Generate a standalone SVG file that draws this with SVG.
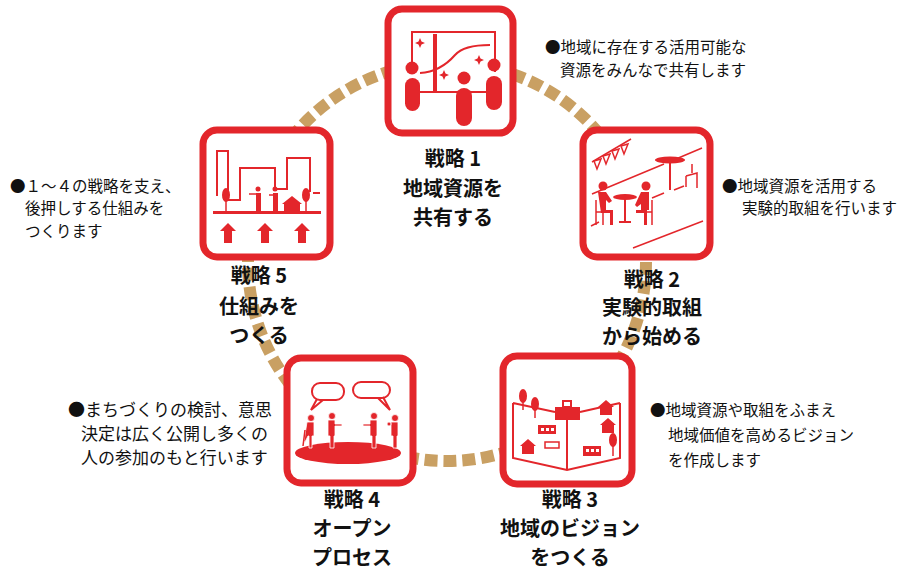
<svg xmlns="http://www.w3.org/2000/svg" width="901" height="571" viewBox="0 0 901 571">
  <style>
    .box { fill: #fff; stroke: #e3262b; stroke-width: 7; }
    .r { fill: #e3262b; }
    .ln { fill: none; stroke: #e3262b; stroke-width: 2; }
    .lt { fill: none; stroke: #e3262b; stroke-width: 1.5; }
    .lbl { font-family: "Noto Sans CJK JP", "Noto Sans", sans-serif; font-weight: 700; font-size: 20px; text-anchor: middle; fill: #111; }
    .desc { font-family: "Noto Sans CJK JP", "Noto Sans", sans-serif; font-size: 15.5px; fill: #111; }
    .desc.wide { font-size: 17px; }
  </style>
  <rect width="901" height="571" fill="#fff"/>

  <!-- dashed ring linking the five strategies -->
  <g id="connectors">
    <circle cx="447" cy="262" r="199" fill="none" stroke="#c9a063" stroke-width="12" stroke-dasharray="13 5.94"/>
  </g>

  <!-- Strategy 1: share local resources -->
  <g id="node-1">
    <rect class="box" x="388" y="9" width="125" height="124" rx="14"/>
    <path class="ln" d="M412,62 V32 H495 V72"/>
    <path class="ln" d="M420,92 H486"/>
    <rect class="r" x="433" y="34" width="4" height="58"/>
    <path class="ln" d="M420,73 C438,72 448,63 455,55 C462,47 474,45 490,45"/>
    <path class="r" d="M420,38 l1.5,3.5 l3.5,1.5 l-3.5,1.5 l-1.5,3.5 l-1.5,-3.5 l-3.5,-1.5 l3.5,-1.5 z"/>
    <path class="r" d="M479,55 l1.5,3.5 l3.5,1.5 l-3.5,1.5 l-1.5,3.5 l-1.5,-3.5 l-3.5,-1.5 l3.5,-1.5 z"/>
    <path class="r" d="M444,70 l1.5,3.5 l3.5,1.5 l-3.5,1.5 l-1.5,3.5 l-1.5,-3.5 l-3.5,-1.5 l3.5,-1.5 z"/>
    <circle class="r" cx="412" cy="68" r="6.5"/>
    <rect class="r" x="405" y="78" width="15" height="33" rx="7.5"/>
    <circle class="r" cx="464" cy="78" r="6.5"/>
    <rect class="r" x="456" y="88" width="16" height="38" rx="8"/>
    <circle class="r" cx="494" cy="65" r="6.5"/>
    <rect class="r" x="486" y="76" width="16" height="34" rx="8"/>
    <text class="lbl" x="453" y="166">戦略 1</text>
    <text class="lbl" x="453" y="196">地域資源を</text>
    <text class="lbl" x="453" y="225">共有する</text>
  </g>

  <!-- Strategy 2: start with experiments -->
  <g id="node-2">
    <rect class="box" x="583" y="130" width="127" height="127" rx="14"/>
    <path class="lt" d="M592,162 L631,139"/>
    <path class="lt" d="M594,161 l3,8 l4,-10 z M603,156 l3,8 l4,-10 z M612,151 l3,8 l4,-10 z M621,146 l3,8 l4,-10 z"/>
    <path class="lt" d="M592,194 L664,164 M676,159 L702,148"/>
    <path class="lt" d="M633,248 L703,221"/>
    <path class="lt" d="M591,226 L599,222 M652,198 L664,193"/>
    <ellipse class="r" cx="670" cy="160" rx="15" ry="3.5"/>
    <path class="ln" d="M670,163 V190"/>
    <path class="lt" d="M674,190 L684,186 M686,176 L697,173 V188 M686,176 V187 M692,164 V173"/>
    <ellipse class="r" cx="625" cy="197" rx="12" ry="3"/>
    <path class="ln" d="M625,199 V222 M619,222 H631"/>
    <circle class="r" cx="603" cy="186" r="4.5"/>
    <path class="r" d="M598,192 h8 l6,9 l-3,2 l-3,-3 v10 l7,0 v15 h-3 v-12 h-9 z"/>
    <path class="lt" d="M596,200 V225 M596,212 H604 M603,212 V225"/>
    <circle class="r" cx="646" cy="186" r="4.5"/>
    <path class="r" d="M641,192 h8 v18 h-2 v15 h-3 v-12 h-8 v-3 l5,0 v-6 l-4,3 l-2,-2 z"/>
    <path class="lt" d="M652,200 V225 M645,212 H652 M645,212 V225"/>
    <text class="lbl" x="652" y="287">戦略 2</text>
    <text class="lbl" x="652" y="315">実験的取組</text>
    <text class="lbl" x="652" y="344">から始める</text>
  </g>

  <!-- Strategy 3: draw the local vision -->
  <g id="node-3">
    <rect class="box" x="503" y="356" width="129" height="128" rx="14"/>
    <path class="ln" d="M513,403 L555,412 M580,412 L620,403 M513,403 V458 L567,470 L620,458 V403 M567,420 V470"/>
    <rect class="r" x="555" y="407" width="25" height="13"/>
    <rect class="ln" x="563" y="401" width="8" height="6"/>
    <ellipse class="r" cx="523" cy="396" rx="4" ry="7"/>
    <path class="lt" d="M523,402 V410"/>
    <ellipse class="r" cx="535" cy="404" rx="4" ry="7"/>
    <path class="lt" d="M535,410 V418"/>
    <path class="r" d="M606,400 l8,7 h-2 v8 h-12 v-8 h-2 z"/>
    <path class="r" d="M608,418 l8,7 h-2 v8 h-12 v-8 h-2 z"/>
    <path class="r" d="M528,439 l8,7 h-2 v8 h-12 v-8 h-2 z"/>
    <rect class="r" x="538" y="425" width="18" height="9"/>
    <rect fill="#fff" x="541" y="428" width="3" height="3"/>
    <rect fill="#fff" x="546" y="428" width="3" height="3"/>
    <rect fill="#fff" x="551" y="428" width="3" height="3"/>
    <rect class="lt" x="545" y="442" width="14" height="6"/>
    <rect class="r" x="583" y="446" width="18" height="10"/>
    <rect fill="#fff" x="586" y="449" width="3" height="3"/>
    <rect fill="#fff" x="591" y="449" width="3" height="3"/>
    <rect fill="#fff" x="596" y="449" width="3" height="3"/>
    <ellipse class="r" cx="613" cy="440" rx="4" ry="7"/>
    <path class="lt" d="M613,446 V456"/>
    <text class="lbl" x="570" y="507">戦略 3</text>
    <text class="lbl" x="570" y="536">地域のビジョン</text>
    <text class="lbl" x="570" y="565">をつくる</text>
  </g>

  <!-- Strategy 4: open process -->
  <g id="node-4">
    <rect class="box" x="287" y="358" width="126" height="125" rx="14"/>
    <rect class="ln" fill="#fff" x="312" y="383" width="32" height="17" rx="8"/>
    <path class="ln" fill="#fff" d="M317,399 L311,410 L323,400"/>
    <rect class="ln" x="353" y="382" width="37" height="16" rx="8"/>
    <path class="ln" fill="#fff" d="M383,397 L390,410 L378,398"/>
    <ellipse class="r" cx="348" cy="453" rx="53" ry="11"/>
    <g class="r" stroke="#fff" stroke-width="0.8">
      <circle cx="311" cy="418" r="3.5"/>
      <path d="M307,422 h7 v14 h-2 v12 h-3 v-12 h-1 l-3,6 l-1,-1 z"/>
      <path d="M305,430 l-2,16" stroke="#e3262b" stroke-width="1.5"/>
      <circle cx="332" cy="416" r="3.5"/>
      <path d="M328,420 h7 v4 h7 v2 h-7 v10 h-1 v12 h-4 v-12 h-2 z"/>
      <circle cx="374" cy="416" r="3.5"/>
      <path d="M370,420 h7 v16 h-1 v12 h-4 v-12 h-2 v-10 h-7 v-2 h7 z"/>
      <circle cx="395" cy="418" r="3.5"/>
      <path d="M391,422 h7 v14 h-1 v12 h-4 v-12 h-2 z"/>
      <circle cx="389" cy="424" r="2"/>
    </g>
    <text class="lbl" x="352" y="507">戦略 4</text>
    <text class="lbl" x="352" y="536">オープン</text>
    <text class="lbl" x="352" y="565">プロセス</text>
  </g>

  <!-- Strategy 5: build the support system -->
  <g id="node-5">
    <rect class="box" x="203" y="130" width="127" height="127" rx="14"/>
    <path class="ln" d="M217,196 V151 H228 V200 H240 V168 H275 V189 H287 V158 H310 V192 M313,193 H320"/>
    <rect class="r" x="213" y="211" width="108" height="3"/>
    <path class="r" d="M228,223 l8,8 h-4 v12 h-8 v-12 h-4 z"/>
    <path class="r" d="M265,223 l8,8 h-4 v12 h-8 v-12 h-4 z"/>
    <path class="r" d="M302,223 l8,8 h-4 v12 h-8 v-12 h-4 z"/>
    <ellipse class="r" cx="226" cy="195" rx="4" ry="7"/>
    <path class="lt" d="M226,200 V211"/>
    <ellipse class="r" cx="306" cy="195" rx="4" ry="7"/>
    <path class="lt" d="M306,200 V211"/>
    <circle class="r" cx="258" cy="189" r="2.5"/>
    <path class="r" d="M256,193 h5 v18 h-5 z"/>
    <path class="lt" d="M249,194 H256"/>
    <circle class="r" cx="275" cy="189" r="2.5"/>
    <path class="r" d="M273,193 h5 v18 h-5 z"/>
    <path class="lt" d="M269,195 H273"/>
    <path class="r" d="M292,196 l10,8 h-2 v7 h-16 v-7 h-2 z"/>
    <text class="lbl" x="259" y="283">戦略 5</text>
    <text class="lbl" x="259" y="314">仕組みを</text>
    <text class="lbl" x="259" y="343">つくる</text>
  </g>

  <!-- explanatory notes -->
  <g id="notes">
    <text class="desc" x="545" y="53">●地域に存在する活用可能な</text>
    <text class="desc" x="560" y="76">資源をみんなで共有します</text>
    <text class="desc" x="722" y="192">●地域資源を活用する</text>
    <text class="desc" x="742" y="214">実験的取組を行います</text>
    <text class="desc" x="650" y="416">●地域資源や取組をふまえ</text>
    <text class="desc" x="668" y="441">地域価値を高めるビジョン</text>
    <text class="desc" x="668" y="466">を作成します</text>
    <text class="desc wide" x="68" y="416">●まちづくりの検討、意思</text>
    <text class="desc wide" x="81" y="440">決定は広く公開し多くの</text>
    <text class="desc wide" x="81" y="464">人の参加のもと行います</text>
    <text class="desc" x="10" y="192">●１～４の戦略を支え、</text>
    <text class="desc" x="25" y="214">後押しする仕組みを</text>
    <text class="desc" x="25" y="237">つくります</text>
  </g>
</svg>
